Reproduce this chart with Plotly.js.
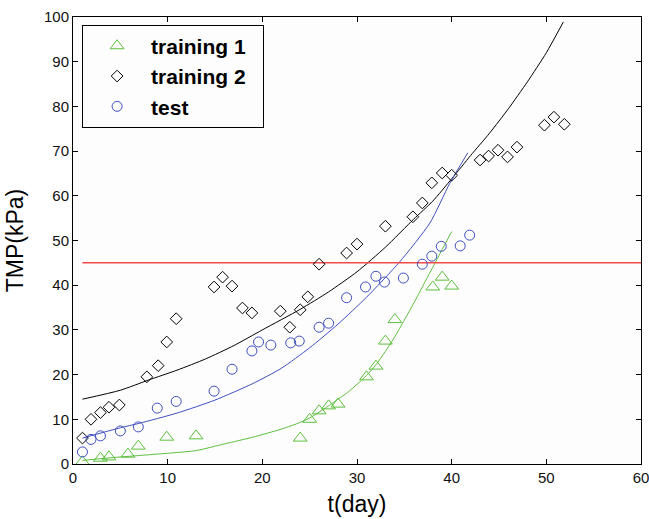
<!DOCTYPE html>
<html><head><meta charset="utf-8">
<script src="https://cdn.plot.ly/plotly-3.0.1.min.js"></script>
<style>html,body{margin:0;padding:0;background:#fff}#chart{width:649px;height:519px}</style>
</head><body><div id="chart"></div>
<script>
// training 1 (measured)
var t1Days = [1, 2.9, 3.8, 5.8, 6.9, 9.9, 13, 24, 25, 26, 27, 28, 31, 32, 33, 34, 38, 39, 40];
var t1Tmp  = [0.5, 1.3, 1.6, 2.2, 4, 6, 6.3, 5.8, 10, 11.9, 13, 13.4, 19.5, 21.9, 27.5, 32.3, 39.6, 41.8, 39.8];
// training 2 (measured)
var t2Days = [1, 1.9, 2.9, 3.8, 4.9, 7.8, 9, 9.9, 10.9, 14.9, 15.8, 16.8, 17.9, 18.9, 21.9, 22.9, 24, 24.8, 26, 28.9, 30, 33, 35.9, 36.9, 37.9, 39, 40, 43, 43.9, 44.9, 45.9, 46.9, 49.8, 50.8, 51.9];
var t2Tmp  = [5.8, 10, 11.5, 12.7, 13.2, 19.5, 22, 27.3, 32.5, 39.6, 41.8, 39.8, 34.9, 33.8, 34.2, 30.6, 34.5, 37.4, 44.7, 47.2, 49.2, 53.2, 55.3, 58.4, 62.9, 65.1, 64.6, 68, 68.9, 70.2, 68.7, 70.9, 75.8, 77.6, 76];
// test (measured)
var teDays = [1, 1.9, 2.9, 5, 6.9, 8.9, 10.9, 14.9, 16.8, 18.9, 19.6, 20.9, 23, 23.9, 26, 27, 28.9, 30.9, 32, 32.9, 34.9, 36.9, 37.9, 38.9, 40.9, 41.9];
var teTmp  = [2.7, 5.5, 6.3, 7.4, 8.3, 12.5, 14, 16.3, 21.2, 25.3, 27.3, 26.6, 27.1, 27.5, 30.6, 31.5, 37.2, 39.6, 42, 40.7, 41.6, 44.7, 46.5, 48.7, 48.8, 51.2];
// model curves
var m1Days = [1, 4, 7, 10, 13, 16, 19, 22, 24, 25, 26, 27, 28, 29, 30, 31, 32, 33, 34, 35, 36, 37, 38, 39, 40];
var m1Tmp  = [0.8, 1.4, 1.9, 2.4, 3.0, 4.5, 6, 7.8, 9.3, 10.3, 11.6, 13, 14.5, 16, 17.8, 19.8, 22.2, 25.2, 28.5, 32.2, 36, 40, 44, 48, 52];
var m2Days = [1, 5, 8, 11, 14, 17, 20, 24, 27, 30, 33, 36, 38, 40, 42, 44, 46, 48, 50, 51.8];
var m2Tmp  = [14.5, 16.5, 18.8, 21, 23.5, 26.5, 30, 34.6, 38.5, 43, 48.5, 54.8, 58.8, 63.8, 69, 74, 79.5, 85.5, 92, 98.9];
var mtDays = [1, 5, 7, 11, 15, 19, 22, 25, 28, 31, 34.5, 37.7, 39.8, 41.7];
var mtTmp  = [5.8, 8.1, 9.1, 11.4, 14.3, 18, 21.4, 26, 31.3, 37.3, 45.2, 53.9, 62.8, 69.6];
// threshold
var limDays = [1, 60];
var limTmp = [45, 45];
// legend labels
var names = ['training 1', 'training 2', 'test'];

var green = '#5cbf3c', blue = '#3f4fbf', red = '#f24a4a';
var FONT = 'Liberation Sans, Arial, sans-serif';
var traces = [
  {x: m1Days, y: m1Tmp, mode: 'lines', line: {color: green, width: 1, shape: 'spline', smoothing: 0.6}, showlegend: false, hoverinfo: 'skip'},
  {x: m2Days, y: m2Tmp, mode: 'lines', line: {color: '#000', width: 1, shape: 'spline', smoothing: 0.6}, showlegend: false, hoverinfo: 'skip'},
  {x: mtDays, y: mtTmp, mode: 'lines', line: {color: blue, width: 1, shape: 'spline', smoothing: 0.6}, showlegend: false, hoverinfo: 'skip'},
  {x: limDays, y: limTmp, mode: 'lines', line: {color: red, width: 1.5}, showlegend: false, hoverinfo: 'skip'},
  {x: t1Days, y: t1Tmp, mode: 'markers', name: names[0], legendgroup: 'a',
   marker: {symbol: 'triangle-up-open', size: 12, color: green, line: {width: 1}}},
  {x: t2Days, y: t2Tmp, mode: 'markers', name: names[1] + '\u00a0\u00a0', legendgroup: 'b',
   marker: {symbol: 'diamond-open', size: 9, color: '#000', line: {width: 1}}},
  {x: teDays, y: teTmp, mode: 'markers', name: names[2], legendgroup: 'c',
   marker: {symbol: 'circle-open', size: 10, color: blue, line: {width: 1}}}
];
var axisCommon = {showline: true, mirror: 'ticks', linecolor: '#000', linewidth: 1,
  ticks: 'inside', ticklen: 5, tickcolor: '#000', showgrid: false, zeroline: false,
  automargin: false, ticklabeloverflow: 'allow',
  tickfont: {family: FONT, size: 15, color: '#111'}};
var layout = {
  width: 649, height: 519,
  margin: {l: 73, r: 8, t: 17, b: 55},
  paper_bgcolor: '#fff', plot_bgcolor: '#fdfdfd',
  font: {family: FONT, color: '#000'},
  xaxis: Object.assign({}, axisCommon, {range: [0, 60], dtick: 10,
    title: {text: 't(day)', font: {size: 23}, standoff: 10}}),
  yaxis: Object.assign({}, axisCommon, {range: [0, 100], dtick: 10,
    title: {text: 'TMP(kPa)', font: {size: 23}, standoff: 13}}),
  legend: {x: 0.016, y: 0.983, xanchor: 'left', yanchor: 'top',
    bgcolor: '#fdfdfd', bordercolor: '#000', borderwidth: 1,
    font: {size: 21, family: FONT, weight: 'bold'},
    tracegroupgap: 0, itemwidth: 58},
  showlegend: true
};
Plotly.newPlot('chart', traces, layout, {displayModeBar: false, staticPlot: true});
</script></body></html>
